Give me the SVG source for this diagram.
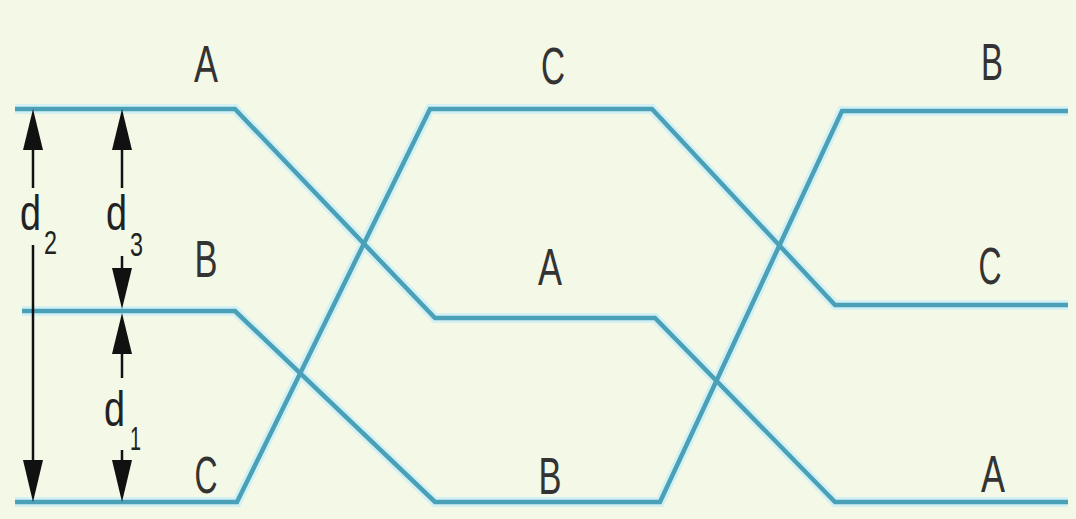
<svg xmlns="http://www.w3.org/2000/svg" width="1076" height="519" viewBox="0 0 1076 519">
  <defs>
    <style>
      .halo { fill: none; stroke: #d3f1f4; stroke-width: 10; stroke-linejoin: miter; }
      .wire { fill: none; stroke: #4aa0b6; stroke-width: 4.5; stroke-linejoin: miter; }
      .lbl { font-family: "Liberation Sans", Arial, sans-serif; font-size: 52px; fill: #333; text-anchor: middle; }
      .dl { font-family: "Liberation Sans", Arial, sans-serif; font-size: 50px; fill: #222; }
      .sub { font-family: "Liberation Sans", Arial, sans-serif; font-size: 34px; fill: #222; }
      .dim { stroke: #111; stroke-width: 2.5; fill: none; }
      .head { fill: #111; }
    </style>
  </defs>
  <rect width="1076" height="519" fill="#f3f8e7"/>

  <g id="connectors">
    <path class="halo" d="M15,109 H235 L435,318 H655 L835,502 H1068"/>
    <path class="halo" d="M22,311 H235 L435,502 H660 L842,111 H1068"/>
    <path class="halo" d="M15,502 H237 L430,109 H652 L835,305 H1068"/>
    <path id="lineA" class="wire" d="M15,109 H235 L435,318 H655 L835,502 H1068"/>
    <path id="lineB" class="wire" d="M22,311 H235 L435,502 H660 L842,111 H1068"/>
    <path id="lineC" class="wire" d="M15,502 H237 L430,109 H652 L835,305 H1068"/>
  </g>

  <g id="labels-left">
    <text class="lbl" x="206" y="82" textLength="24" lengthAdjust="spacingAndGlyphs">A</text>
    <text class="lbl" x="206" y="277" textLength="23" lengthAdjust="spacingAndGlyphs">B</text>
    <text class="lbl" x="206" y="493" textLength="23" lengthAdjust="spacingAndGlyphs">C</text>
  </g>
  <g id="labels-middle">
    <text class="lbl" x="553" y="84" textLength="24" lengthAdjust="spacingAndGlyphs">C</text>
    <text class="lbl" x="550" y="285" textLength="24" lengthAdjust="spacingAndGlyphs">A</text>
    <text class="lbl" x="550" y="494" textLength="23" lengthAdjust="spacingAndGlyphs">B</text>
  </g>
  <g id="labels-right">
    <text class="lbl" x="992" y="80" textLength="22" lengthAdjust="spacingAndGlyphs">B</text>
    <text class="lbl" x="990" y="284" textLength="23" lengthAdjust="spacingAndGlyphs">C</text>
    <text class="lbl" x="993" y="492" textLength="24" lengthAdjust="spacingAndGlyphs">A</text>
  </g>

  <g id="dim-d2">
    <line class="dim" x1="33" y1="140" x2="33" y2="188"/>
    <line class="dim" x1="33" y1="245" x2="33" y2="470"/>
    <path class="head" d="M33,109 L43,150 L23,150 Z"/>
    <path class="head" d="M33,502 L43,460 L23,460 Z"/>
    <text class="dl" x="20" y="230" textLength="21" lengthAdjust="spacingAndGlyphs">d</text>
    <text class="sub" x="44" y="254" textLength="13" lengthAdjust="spacingAndGlyphs">2</text>
  </g>
  <g id="dim-d3">
    <line class="dim" x1="122" y1="140" x2="122" y2="188"/>
    <line class="dim" x1="122" y1="256" x2="122" y2="280"/>
    <path class="head" d="M122,109 L132,150 L112,150 Z"/>
    <path class="head" d="M122,309 L132,268 L112,268 Z"/>
    <text class="dl" x="106" y="230" textLength="21" lengthAdjust="spacingAndGlyphs">d</text>
    <text class="sub" x="130" y="256" textLength="13" lengthAdjust="spacingAndGlyphs">3</text>
  </g>
  <g id="dim-d1">
    <line class="dim" x1="122" y1="340" x2="122" y2="378"/>
    <line class="dim" x1="122" y1="450" x2="122" y2="470"/>
    <path class="head" d="M122,313 L132,354 L112,354 Z"/>
    <path class="head" d="M122,502 L132,460 L112,460 Z"/>
    <text class="dl" x="104" y="426" textLength="21" lengthAdjust="spacingAndGlyphs">d</text>
    <text class="sub" x="130" y="450" textLength="11" lengthAdjust="spacingAndGlyphs">1</text>
  </g>
</svg>
